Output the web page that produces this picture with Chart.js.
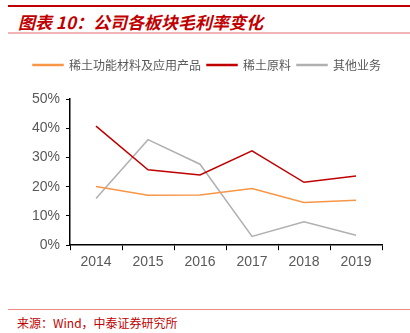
<!DOCTYPE html>
<html lang="zh">
<head>
  <meta charset="UTF-8">
  <title>公司各板块毛利率变化</title>
  <style>
    body { margin: 0; padding: 0; width: 410px; height: 333px; background: #fff; position: relative; overflow: hidden; font-family: "Noto Sans CJK SC", sans-serif; }
    .topline { position: absolute; left: 8px; right: 0; top: 5px; height: 2px; background: #c00000; }
    .title { position: absolute; left: 18px; top: 9px; font-size: 17px; font-weight: bold; font-style: italic; color: #c00000; white-space: nowrap; }
    .titleline { position: absolute; left: 8px; right: 0; top: 32px; height: 2px; background: #f2b5b5; }
    #wrap { position: absolute; left: 0; top: 45px; width: 410px; height: 230px; }
    .footline { position: absolute; left: 8px; right: 0; top: 309px; height: 1px; background: #ee8a8a; }
    .source { position: absolute; left: 17px; top: 314px; font-size: 12px; color: #c00000; white-space: nowrap; }
  </style>
</head>
<body>
  <div class="topline"></div>
  <div class="title">图表 10：公司各板块毛利率变化</div>
  <div class="titleline"></div>
  <div id="wrap"><canvas id="chart"></canvas></div>
  <div class="footline"></div>
  <div class="source">来源：Wind，中泰证券研究所</div>

  <script src="https://cdn.jsdelivr.net/npm/chart.js"></script>
  <script>
    // 年份
    const years = ['2014', '2015', '2016', '2017', '2018', '2019'];
    // 各板块毛利率 (%)
    const functionalMaterials = [20.1, 17.1, 17.2, 19.4, 14.6, 15.4];
    const rawMaterials = [40.7, 25.8, 24.0, 32.3, 21.5, 23.7];
    const otherBusiness = [16.0, 36.1, 27.7, 3.0, 8.0, 3.4];
    const yTicks = [0, 10, 20, 30, 40, 50];

    const mk = (label, data, color) => ({
      label, data,
      borderColor: color, backgroundColor: color,
      borderWidth: 1.5, pointRadius: 0, tension: 0
    });

    // 图例下方留白，并整体右移一点
    const legendGap = {
      id: 'legendGap',
      beforeInit(chart) {
        const fit = chart.legend.fit;
        chart.legend.fit = function () { fit.bind(this)(); this.height += 18; };
      },
      afterLayout(chart) {
        chart.legend.left += 16;
        chart.legend.right += 16;
      }
    };

    new Chart(document.getElementById('chart'), {
      type: 'line',
      data: {
        labels: years,
        datasets: [
          mk('稀土功能材料及应用产品', functionalMaterials, '#f79646'),
          mk('稀土原料', rawMaterials, '#c00000'),
          mk('其他业务', otherBusiness, '#b0b0b0')
        ]
      },
      options: {
        responsive: true,
        maintainAspectRatio: false,
        animation: false,
        layout: { padding: { left: 0, right: 28, top: 8, bottom: 0 } },
        plugins: {
          tooltip: { enabled: false },
          legend: {
            position: 'top',
            labels: {
              boxWidth: 30, boxHeight: 1, padding: 6,
              color: '#595959',
              font: { family: '"Noto Sans CJK SC"', size: 12 }
            }
          }
        },
        scales: {
          x: {
            offset: true,
            grid: { offset: true, drawOnChartArea: false, drawTicks: true, tickLength: 5, color: '#000' },
            border: { display: true, color: '#000', width: 1.5 },
            ticks: { color: '#595959', font: { family: 'Liberation Sans', size: 14 }, padding: 4 }
          },
          y: {
            min: 0, max: 50,
            afterBuildTicks: axis => { axis.ticks = yTicks.map(v => ({ value: v })); },
            afterFit: axis => { axis.width += 26; },
            grid: { drawOnChartArea: false, drawTicks: true, tickLength: 4, color: '#000' },
            border: { display: true, color: '#000', width: 1.5 },
            ticks: { color: '#595959', font: { family: 'Liberation Sans', size: 14 }, padding: 6,
                     callback: v => v + '%' }
          }
        }
      },
      plugins: [legendGap]
    });
  </script>
</body>
</html>
